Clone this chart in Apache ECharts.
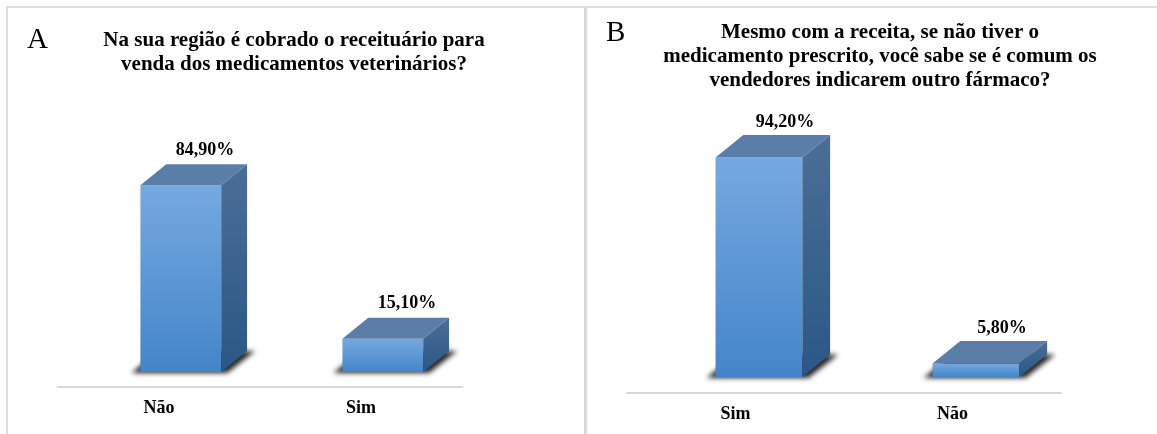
<!DOCTYPE html>
<html>
<head>
<meta charset="utf-8">
<script src="https://cdn.jsdelivr.net/npm/echarts@6/dist/echarts.min.js"></script>
<style>
  html, body { margin: 0; padding: 0; background: #fff; }
  #chart { width: 1157px; height: 434px; }
</style>
</head>
<body>
<div id="chart"></div>
<script>
// Survey answers, panel A
const categoriesA = ['Não', 'Sim'];
const valuesA = [84.9, 15.1];
const titleA = 'Na sua região é cobrado o receituário para\nvenda dos medicamentos veterinários?';

// Survey answers, panel B
const categoriesB = ['Sim', 'Não'];
const valuesB = [94.2, 5.8];
const titleB = 'Mesmo com a receita, se não tiver o\nmedicamento prescrito, você sabe se é comum os\nvendedores indicarem outro fármaco?';

const SERIF = '"Liberation Serif", "Times New Roman", serif';
// the footprint is drawn off-canvas so only its blurred shadow lands on the floor
const SHADOW_SHIFT = 3000;

function pct(v) {
  return v.toFixed(2).replace('.', ',') + '%';
}

// Oblique-projection 3D bar: front face, right side, top face, soft floor shadow and value label
function renderBar3d(params, api) {
  const idx = api.value(0);
  const v = api.value(1);
  const base = api.coord([idx, 0]);
  const top = api.coord([idx, v]);
  const cw = api.size([1, 0])[0];
  const w = cw * 0.4;
  const dx = w * 0.32;
  const dy = w * 0.26;
  const cx = base[0] + w * 0.27;
  const x0 = cx - w / 2, x1 = cx + w / 2;
  const yb = base[1], yt = top[1];
  const s = SHADOW_SHIFT;

  return {
    type: 'group',
    children: [
      {
        type: 'polygon',
        shape: { points: [[x0 - 9 + s, yb + 1], [x1 + 6 + s, yb + 1], [x1 + dx + 8 + s, yb - dy], [x0 + dx - 8 + s, yb - dy]] },
        style: { fill: '#000', shadowBlur: 5, shadowColor: 'rgba(0,0,0,0.85)', shadowOffsetX: -s, shadowOffsetY: 0 }
      },
      {
        type: 'rect',
        shape: { x: x0, y: yt, width: w, height: yb - yt },
        style: {
          fill: { type: 'linear', x: 0, y: 0, x2: 0, y2: 1, colorStops: [
            { offset: 0, color: '#75a9e0' }, { offset: 1, color: '#4485c9' }] }
        }
      },
      {
        type: 'polygon',
        shape: { points: [[x1, yt], [x1 + dx, yt - dy], [x1 + dx, yb - dy], [x1, yb]] },
        style: {
          fill: { type: 'linear', x: 0, y: 0, x2: 0, y2: 1, colorStops: [
            { offset: 0, color: '#4b6e97' }, { offset: 1, color: '#2b5786' }] }
        }
      },
      {
        type: 'polygon',
        shape: { points: [[x0, yt], [x0 + dx, yt - dy], [x1 + dx, yt - dy], [x1, yt]] },
        style: { fill: '#5a7ea8' }
      },
      {
        type: 'text',
        x: cx + w * 0.3,
        y: yt - 26,
        style: {
          text: pct(v),
          fill: '#000',
          font: 'bold 18px ' + SERIF,
          textAlign: 'center',
          textVerticalAlign: 'bottom'
        }
      }
    ]
  };
}

function xAxisFor(gridIndex, cats, offset) {
  return {
    type: 'category',
    gridIndex: gridIndex,
    data: cats,
    offset: offset,
    axisLine: { show: true, onZero: false, lineStyle: { color: '#d9d9d9', width: 2 } },
    axisTick: { show: false },
    axisLabel: { color: '#000', fontFamily: SERIF, fontWeight: 'bold', fontSize: 18, margin: 12 },
    splitLine: { show: false }
  };
}

function yAxisFor(gridIndex) {
  return {
    type: 'value',
    gridIndex: gridIndex,
    min: 0,
    max: 100,
    show: false,
    splitLine: { show: false }
  };
}

const chart = echarts.init(document.getElementById('chart'), null, { renderer: 'canvas' });

chart.setOption({
  animation: false,
  backgroundColor: '#fff',
  grid: [
    { left: 58, top: 152, width: 404, height: 220 },
    { left: 627, top: 144, width: 434, height: 233 }
  ],
  xAxis: [xAxisFor(0, categoriesA, 15), xAxisFor(1, categoriesB, 16)],
  yAxis: [yAxisFor(0), yAxisFor(1)],
  series: [
    {
      type: 'custom',
      xAxisIndex: 0,
      yAxisIndex: 0,
      renderItem: renderBar3d,
      data: valuesA.map((v, i) => [i, v])
    },
    {
      type: 'custom',
      xAxisIndex: 1,
      yAxisIndex: 1,
      renderItem: renderBar3d,
      data: valuesB.map((v, i) => [i, v])
    }
  ],
  graphic: [
    // panel frames
    { type: 'rect', shape: { x: 6, y: 6, width: 1151, height: 2 }, style: { fill: '#dddddd' }, silent: true },
    { type: 'rect', shape: { x: 6, y: 6, width: 2, height: 428 }, style: { fill: '#dddddd' }, silent: true },
    { type: 'rect', shape: { x: 584, y: 6, width: 3, height: 428 }, style: { fill: '#d9d9d9' }, silent: true },
    // panel letters
    { type: 'text', x: 27, y: 26, style: { text: 'A', font: '29px ' + SERIF, fill: '#000' } },
    { type: 'text', x: 606, y: 19, style: { text: 'B', font: '29px ' + SERIF, fill: '#000' } },
    // panel titles
    {
      type: 'text', x: 294, y: 29,
      style: { text: titleA, font: 'bold 21px ' + SERIF, lineHeight: 24, fill: '#000', textAlign: 'center' }
    },
    {
      type: 'text', x: 880, y: 21,
      style: { text: titleB, font: 'bold 21px ' + SERIF, lineHeight: 24, fill: '#000', textAlign: 'center' }
    }
  ]
});
</script>
</body>
</html>
